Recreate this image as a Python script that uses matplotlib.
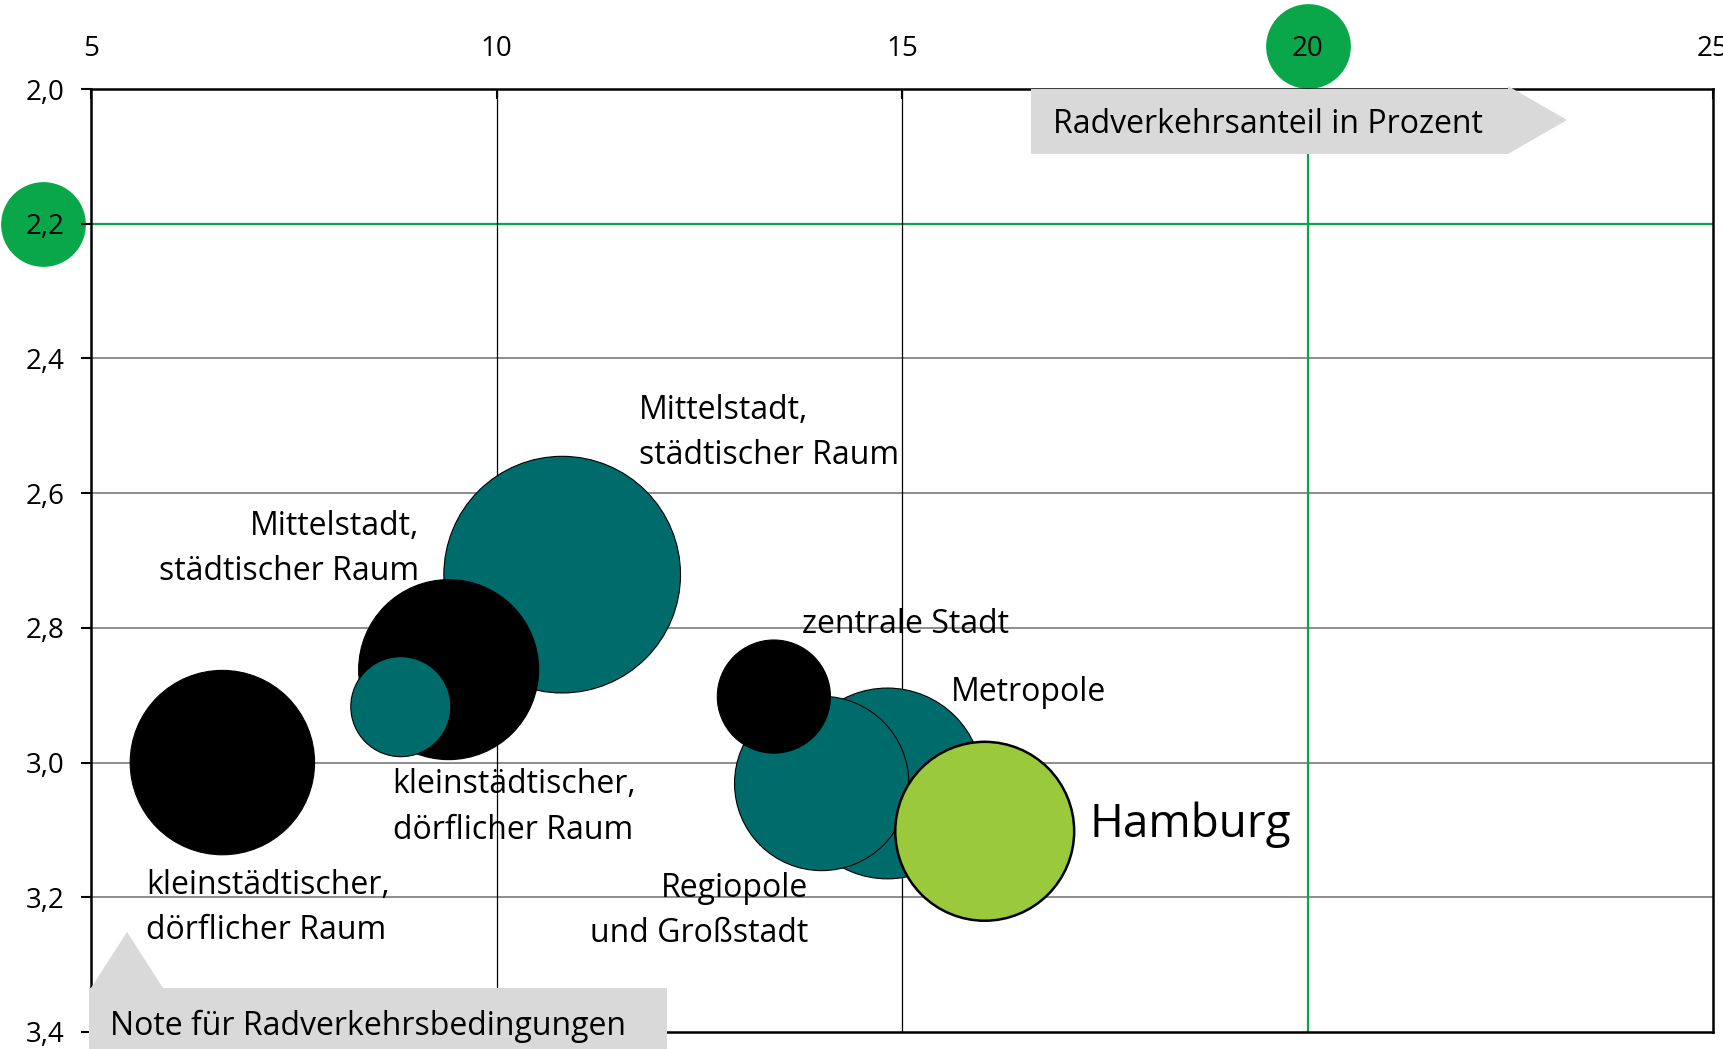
import matplotlib
import matplotlib.pyplot as plt
from matplotlib.patches import Polygon
from matplotlib.transforms import blended_transform_factory

matplotlib.use("Agg")
plt.rcParams["font.family"] = ["Open Sans", "DejaVu Sans"]

# Radverkehrsanteil (%) und Note je Raumtyp, in Zeichenreihenfolge
raumtyp = [
    "Mittelstadt (teal)", "Mittelstadt (schwarz)", "kleinstädtisch (teal)",
    "kleinstädtisch (schwarz)", "Metropole", "Regiopole", "zentrale Stadt", "Hamburg",
]
anteil = [10.81, 9.41, 8.82, 6.62, 14.82, 14.01, 13.42, 16.02]
note = [2.721, 2.862, 2.917, 3.00, 3.031, 3.031, 2.902, 3.102]
groesse = [140, 81, 25, 85, 91, 76, 32, 80]
farben = ["#006b6b", "#000000", "#006b6b", "#000000",
          "#006b6b", "#006b6b", "#000000", "#9aca3c"]
randbreite = [0.8, 0.8, 0.8, 0.8, 0.8, 0.8, 0.8, 1.8]

x_ticks = [5, 10, 15, 20, 25]
y_ticks = [2.0, 2.2, 2.4, 2.6, 2.8, 3.0, 3.2, 3.4]
ziel_anteil = 20
ziel_note = 2.2

# Beschriftungen: (Text, x, y, Ausrichtung, Schriftgröße)
beschriftungen = [
    ("Mittelstadt,\nstädtischer Raum", 11.76, 2.511, "left", 23),
    ("Mittelstadt,\nstädtischer Raum", 9.04, 2.683, "right", 23),
    ("kleinstädtischer,\ndörflicher Raum", 8.72, 3.067, "left", 23),
    ("kleinstädtischer,\ndörflicher Raum", 5.68, 3.216, "left", 23),
    ("zentrale Stadt", 13.77, 2.795, "left", 23),
    ("Metropole", 15.60, 2.896, "left", 23),
    ("Regiopole\nund Großstadt", 13.84, 3.220, "right", 23),
    ("Hamburg", 17.31, 3.093, "left", 33),
]

W, H = 1724, 1049
GRUEN = "#0aa64a"


def px(x, y):
    """Pixel (von oben links) -> Figure-Koordinaten."""
    return (x / W, 1 - y / H)


fig = plt.figure(figsize=(W / 100, H / 100), dpi=100)
ax = fig.add_axes([91 / W, (H - 1032) / H, (1713 - 91) / W, (1032 - 89) / H])

ax.set_xlim(x_ticks[0], x_ticks[-1])
ax.set_ylim(y_ticks[-1], y_ticks[0])
ax.set_axisbelow(False)

# Gitterlinien
for y in y_ticks[1:-1]:
    if y == ziel_note:
        ax.axhline(y, color=GRUEN, lw=1.6, zorder=1)
    else:
        ax.axhline(y, color="#858585", lw=1.3, zorder=1)
for x in x_ticks[1:-1]:
    if x == ziel_anteil:
        ax.axvline(x, color=GRUEN, lw=1.6, zorder=1)
    else:
        ax.axvline(x, color="black", lw=0.9, zorder=1)

# Blasen: Fläche proportional zur Größe
ax.scatter(anteil, note, s=[g * 207.4 for g in groesse], c=farben,
           edgecolors="black", linewidths=randbreite, zorder=2)

for text, x, y, ha, fs in beschriftungen:
    ax.text(x, y, text, ha=ha, va="center", fontsize=fs, linespacing=1.5,
            zorder=3)

# Achsen
ax.xaxis.tick_top()
ax.set_xticks(x_ticks)
ax.set_xticklabels([str(t) for t in x_ticks])
ax.set_yticks(y_ticks)
ax.set_yticklabels([f"{t:.1f}".replace(".", ",") for t in y_ticks])
ax.tick_params(axis="x", direction="in", length=7, width=1.5, pad=19,
               labelsize=20)
ax.tick_params(axis="y", direction="out", length=7, width=1.5, pad=12,
               labelsize=20)
for s in ax.spines.values():
    s.set_linewidth(1.8)
    s.set_zorder(2.6)

# Markierung der Zielwerte hinter den Tick-Beschriftungen
tr_x = blended_transform_factory(ax.transData, ax.transAxes)
ax.plot([ziel_anteil], [1.0456], "o", ms=60, color=GRUEN, transform=tr_x,
        clip_on=False, zorder=2.4)
tr_y = blended_transform_factory(ax.transAxes, ax.transData)
ax.plot([-0.0296], [ziel_note], "o", ms=60, color=GRUEN, transform=tr_y,
        clip_on=False, zorder=2.4)

# Pfeile mit Achsentiteln
pfeil_oben = [px(1031, 89), px(1508, 89), px(1508, 86), px(1567, 120),
              px(1508, 154), px(1031, 154)]
fig.add_artist(Polygon(pfeil_oben, closed=True, transform=fig.transFigure,
                       facecolor="#d9d9d9", edgecolor="none", zorder=5))
fig.text(*px(1053, 133), "Radverkehrsanteil in Prozent", fontsize=23,
         ha="left", va="baseline", zorder=6)

pfeil_unten = [px(89, 988), px(91, 988), px(127, 932), px(163, 988),
               px(667, 988), px(667, 1049), px(89, 1049)]
fig.add_artist(Polygon(pfeil_unten, closed=True, transform=fig.transFigure,
                       facecolor="#d9d9d9", edgecolor="none", zorder=5))
fig.text(*px(110, 1035), "Note für Radverkehrsbedingungen", fontsize=23,
         ha="left", va="baseline", zorder=6)

fig.savefig("out.png", dpi=100)
